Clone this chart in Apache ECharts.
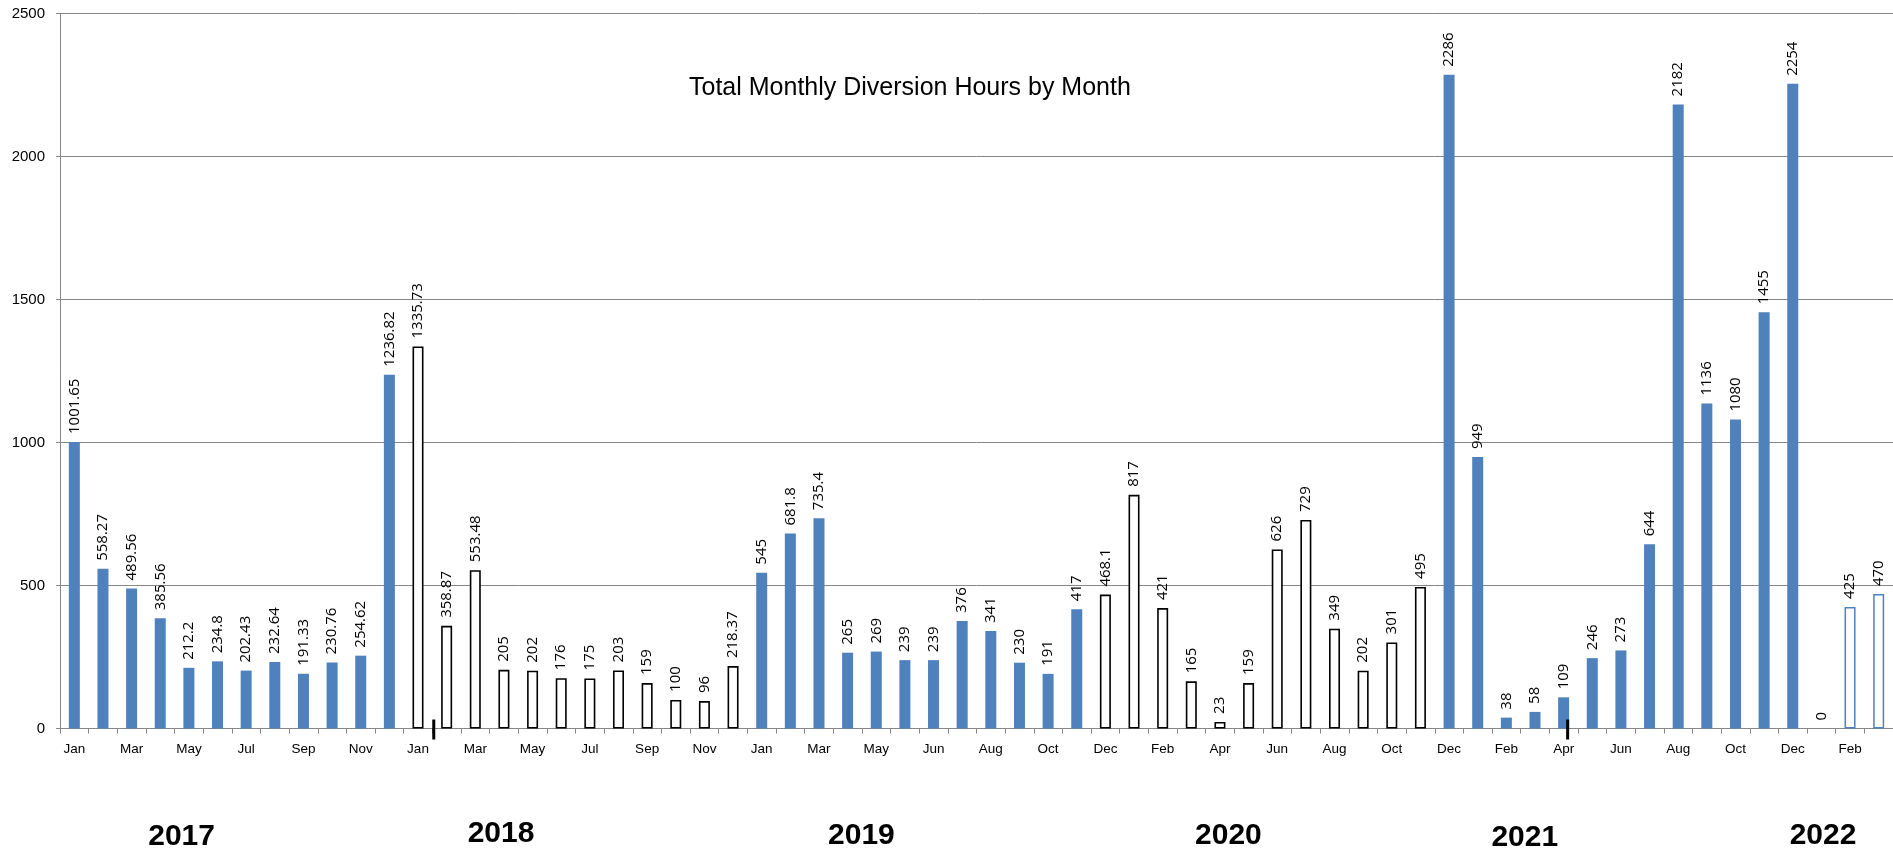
<!DOCTYPE html>
<html>
<head>
<meta charset="utf-8">
<script src="https://cdn.jsdelivr.net/npm/echarts@6/dist/echarts.min.js"></script>
<style>
html,body{margin:0;padding:0;background:#fff;}
#chart{width:1893px;height:854px;}
</style>
</head>
<body>
<div id="chart"></div>
<script>
// ---- DATA ----
const categories = [
  'Jan','Feb','Mar','Apr','May','Jun','Jul','Aug','Sep','Oct','Nov','Dec',
  'Jan','Feb','Mar','Apr','May','Jun','Jul','Aug','Sep','Oct','Nov','Dec',
  'Jan','Feb','Mar','Apr','May','Jun','Jun','Jul','Aug','Sep','Oct','Nov','Dec',
  'Jan','Feb','Mar','Apr','May','Jun','Jul','Aug','Sep','Oct','Nov','Dec',
  'Jan','Feb','Mar','Apr','May','Jun','Jul','Aug','Sep','Oct','Nov','Dec',
  'Jan','Feb','Mar'
];
const values = [
  1001.65, 558.27, 489.56, 385.56, 212.2, 234.8, 202.43, 232.64, 191.33, 230.76, 254.62, 1236.82,
  1335.73, 358.87, 553.48, 205, 202, 176, 175, 203, 159, 100, 96, 218.37,
  545, 681.8, 735.4, 265, 269, 239, 239, 376, 341, 230, 191, 417, 468.1,
  817, 421, 165, 23, 159, 626, 729, 349, 202, 301, 495,
  2286, 949, 38, 58, 109, 246, 273, 644, 2182, 1136, 1080, 1455, 2254,
  0, 425, 470
];
// group per bar: 0 = solid, 1 = hollow black, 2 = hollow blue
const barGroup = [
  0,0,0,0,0,0,0,0,0,0,0,0,
  1,1,1,1,1,1,1,1,1,1,1,1,
  0,0,0,0,0,0,0,0,0,0,0,0,1,
  1,1,1,1,1,1,1,1,1,1,1,
  0,0,0,0,0,0,0,0,0,0,0,0,0,
  0,2,2
];
const yTicks = [0, 500, 1000, 1500, 2000, 2500];
const yearLabels = ['2017','2018','2019','2020','2021','2022'];
const titleText = 'Total Monthly Diversion Hours by Month';
// annotation markers, in category-band units from the left edge of the axis
const markerPositions = [13.05, 52.64];

// ---- STYLES ----
const BLUE = '#4F81BD';
const GRID = '#868686';
const FONT = '"Liberation Sans", Arial, sans-serif';
const groupStyles = [
  {color: BLUE, borderWidth: 0},
  {color: '#ffffff', borderColor: '#000000', borderWidth: 1.6},
  {color: '#ffffff', borderColor: BLUE, borderWidth: 1.5}
];

const barData = values.map((v, i) => ({value: v, itemStyle: groupStyles[barGroup[i]]}));

const yearX = [181.6, 501, 861.4, 1228.4, 1524.8, 1823];
const yearY = [836.7, 834, 835.5, 835.5, 838, 835.5];

const chart = echarts.init(document.getElementById('chart'), null, {renderer: 'canvas'});
const option = {
  backgroundColor: '#ffffff',
  animation: false,
  title: {
    text: titleText,
    left: 684, top: 71,
    textStyle: {fontFamily: FONT, fontSize: 25, fontWeight: 'normal', color: '#000'}
  },
  grid: {left: 60, top: 13.5, width: 1837, height: 715, containLabel: false},
  xAxis: {
    type: 'category',
    data: categories,
    boundaryGap: true,
    axisLine: {show: true, lineStyle: {color: GRID, width: 1}},
    axisTick: {show: true, interval: 0, length: 5, lineStyle: {color: GRID}},
    axisLabel: {interval: 1, margin: 14, fontFamily: FONT, fontSize: 13.5, color: '#000'},
    splitLine: {show: false}
  },
  yAxis: {
    type: 'value',
    min: yTicks[0], max: yTicks[yTicks.length - 1], interval: yTicks[1] - yTicks[0],
    axisLine: {show: true, lineStyle: {color: GRID, width: 1}},
    axisTick: {show: true, length: 4, lineStyle: {color: GRID}},
    axisLabel: {margin: 15, fontFamily: FONT, fontSize: 15, color: '#000', formatter: v => String(v)},
    splitLine: {show: true, lineStyle: {color: GRID, width: 1}}
  },
  series: [
    {
      type: 'bar',
      data: barData,
      barWidth: 11,
      label: {
        show: true, position: 'top', rotate: 90, align: 'left', verticalAlign: 'middle',
        distance: 8, fontFamily: '"Open Sans", sans-serif', fontSize: 15, color: '#000',
        formatter: p => String(values[p.dataIndex])
      },
      z: 2
    },
    {
      type: 'custom',
      clip: false,
      silent: true,
      z: 5,
      data: markerPositions.map(p => [0, 0, p]),
      renderItem: (params, api) => {
        const p = api.value(2);
        const base = api.coord([0, 0]);
        const w = api.size([1, 0])[0];
        const x = base[0] - w / 2 + p * w;
        return {
          type: 'rect',
          shape: {x: x - 1.5, y: base[1] - 9, width: 3, height: 20},
          style: {fill: '#000'}
        };
      }
    }
  ],
  graphic: yearLabels.map((t, i) => ({
    type: 'text',
    x: yearX[i], y: yearY[i],
    style: {
      text: t, fontFamily: FONT, fontSize: 30, fontWeight: 'bold', fill: '#000',
      textAlign: 'center', textVerticalAlign: 'middle'
    }
  }))
};
chart.setOption(option);
</script>
</body>
</html>
